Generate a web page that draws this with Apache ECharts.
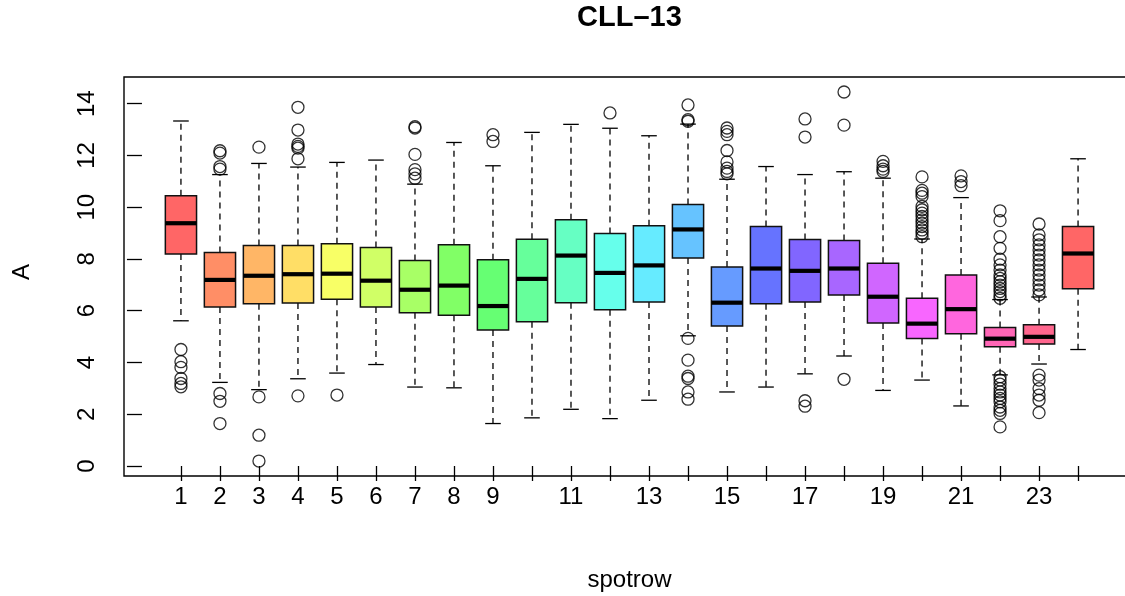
<!DOCTYPE html>
<html>
<head>
<meta charset="utf-8">
<script src="https://cdn.jsdelivr.net/npm/echarts@6/dist/echarts.min.js"></script>
<style>
html,body{margin:0;padding:0;background:#fff;}
#chart{width:1125px;height:596px;}
</style>
</head>
<body>
<div id="chart"></div>
<script>
// ---- data ----
const categories = [1,2,3,4,5,6,7,8,9,10,11,12,13,14,15,16,17,18,19,20,21,22,23,24];
const xTickLabels = [1,2,3,4,5,6,7,8,9,11,13,15,17,19,21,23];
const yTickValues = [0,2,4,6,8,10,12,14];
const lowerWhisker = [5.61,3.23,2.95,3.37,3.59,3.92,3.05,3.02,1.64,1.86,2.19,1.83,2.54,5.03,2.86,3.05,3.56,4.25,2.92,3.32,2.32,3.52,3.94,4.50];
const q1           = [8.19,6.14,6.27,6.30,6.44,6.14,5.92,5.82,5.25,5.57,6.31,6.04,6.34,8.04,5.41,6.27,6.34,6.61,5.52,4.93,5.11,4.61,4.71,6.85];
const median       = [9.38,7.19,7.35,7.41,7.43,7.16,6.81,6.97,6.18,7.23,8.13,7.46,7.75,9.14,6.31,7.63,7.54,7.63,6.54,5.50,6.06,4.92,4.99,8.21];
const q3           = [10.44,8.25,8.52,8.52,8.59,8.44,7.94,8.55,7.97,8.76,9.51,8.98,9.28,10.10,7.69,9.25,8.75,8.71,7.83,6.48,7.38,5.35,5.46,9.25];
const upperWhisker = [13.33,11.26,11.69,11.55,11.73,11.82,10.89,12.50,11.60,12.89,13.20,13.05,12.76,13.21,11.08,11.57,11.26,11.37,11.12,8.77,10.37,6.43,6.53,11.87];
const outliers = [
  [4.50,4.03,3.81,3.38,3.19,3.06],
  [12.18,12.09,11.57,11.47,2.80,2.50,1.64],
  [12.32,2.67,1.19,0.19],
  [13.86,12.98,12.44,12.35,12.28,11.87,2.71],
  [2.74],
  [],
  [13.11,13.06,12.04,11.45,11.29,11.12],
  [],
  [12.80,12.54],
  [],
  [],
  [13.64],
  [],
  [13.95,13.38,13.32,4.93,4.09,3.47,3.38,2.86,2.58],
  [13.06,12.93,12.80,12.19,11.75,11.51,11.38,11.29],
  [],
  [13.41,12.71,2.52,2.31],
  [14.45,13.17,3.35],
  [11.77,11.60,11.47,11.38],
  [11.17,10.65,10.54,10.41,10.03,9.90,9.77,9.64,9.51,9.38,9.25,9.12,8.99,8.86],
  [11.21,10.99,10.83],
  [9.86,9.48,8.86,8.41,7.99,7.77,7.57,7.38,7.25,7.12,6.99,6.86,6.74,6.61,6.48,3.45,3.32,3.16,2.99,2.86,2.74,2.61,2.48,2.28,2.15,2.03,1.51],
  [9.35,8.93,8.74,8.54,8.35,8.15,7.96,7.77,7.57,7.38,7.19,6.99,6.80,6.61,3.51,3.32,2.99,2.74,2.54,2.06],
  []
];
const boxColors = ['#FF6666','#FF8E66','#FFB666','#FFDE66','#F8FF66','#D0FF66','#A8FF66','#81FF66','#66FF73','#66FF9B','#66FFC3','#66FFEB','#66EBFF','#66C3FF','#669BFF','#6673FF','#8166FF','#A866FF','#D066FF','#F866FF','#FF66DE','#FF66B6','#FF668E','#FF6666'];

// ---- build series data ----
const boxData = categories.map((c,i)=>[c, lowerWhisker[i], q1[i], median[i], q3[i], upperWhisker[i], i]);
const outlierData = [];
outliers.forEach((arr,i)=>arr.forEach(v=>outlierData.push([categories[i], v])));

const FONT = '"Liberation Sans", Arial, Helvetica, sans-serif';
const chart = echarts.init(document.getElementById('chart'), null, {renderer:'canvas'});

function renderBox(params, api){
  const x = api.value(0);
  const lw = api.value(1), b1 = api.value(2), md = api.value(3), b3 = api.value(4), uw = api.value(5);
  const idx = api.value(6);
  const bw = api.size([0.8, 0])[0];
  const cw = api.size([0.4, 0])[0];
  const pLw = api.coord([x, lw]), pQ1 = api.coord([x, b1]), pMd = api.coord([x, md]), pQ3 = api.coord([x, b3]), pUw = api.coord([x, uw]);
  const cx = pMd[0];
  const dash = {stroke:'#000', lineWidth:1.3, lineDash:[6,5]};
  const solid = {stroke:'#000', lineWidth:1.3};
  return {
    type:'group',
    children:[
      {type:'line', shape:{x1:cx,y1:pQ3[1],x2:cx,y2:pUw[1]}, style:dash},
      {type:'line', shape:{x1:cx,y1:pQ1[1],x2:cx,y2:pLw[1]}, style:dash},
      {type:'line', shape:{x1:cx-cw/2,y1:pUw[1],x2:cx+cw/2,y2:pUw[1]}, style:solid},
      {type:'line', shape:{x1:cx-cw/2,y1:pLw[1],x2:cx+cw/2,y2:pLw[1]}, style:solid},
      {type:'rect', shape:{x:cx-bw/2, y:pQ3[1], width:bw, height:pQ1[1]-pQ3[1]}, style:{fill:boxColors[idx], stroke:'#111', lineWidth:1.5}},
      {type:'line', shape:{x1:cx-bw/2,y1:pMd[1],x2:cx+bw/2,y2:pMd[1]}, style:{stroke:'#000', lineWidth:4.2}}
    ]
  };
}

const option = {
  backgroundColor:'#fff',
  animation:false,
  grid:{left:124, right:-10, top:77, bottom:120, outerBoundsMode:'none', containLabel:false, show:true, borderColor:'#000', borderWidth:1.4, backgroundColor:'transparent'},
  xAxis:{
    type:'value', min:-0.46, max:25.46,
    axisLine:{show:false},
    splitLine:{show:false},
    axisTick:{show:true, customValues:categories, length:15, lineStyle:{color:'#000', width:1.3}},
    axisLabel:{show:true, customValues:xTickLabels, fontSize:24, color:'#000', fontFamily:FONT, margin:9}
  },
  yAxis:{
    type:'value', min:-0.387, max:15.03,
    axisLine:{show:false},
    splitLine:{show:false},
    axisTick:{show:true, customValues:yTickValues, length:15, lineStyle:{color:'#000', width:1.3}},
    axisLabel:{show:true, customValues:yTickValues, rotate:90, fontSize:24, color:'#000', fontFamily:FONT, margin:25}
  },
  graphic:[
    {type:'text', x:629.5, y:18, style:{text:'CLL\u201313', font:'bold 29px '+FONT, fill:'#000', textAlign:'center', textVerticalAlign:'middle'}},
    {type:'text', x:629.5, y:580, style:{text:'spotrow', font:'24px '+FONT, fill:'#000', textAlign:'center', textVerticalAlign:'middle'}},
    {type:'text', x:22, y:272, rotation:Math.PI/2, style:{text:'A', font:'24px '+FONT, fill:'#000', textAlign:'center', textVerticalAlign:'middle'}}
  ],
  series:[
    {type:'custom', renderItem:renderBox, data:boxData, encode:{x:0, y:[1,2,3,4,5]}, z:2},
    {type:'scatter', data:outlierData, symbol:'circle', symbolSize:12, itemStyle:{color:'transparent', borderColor:'#000', borderWidth:1.3}, z:3}
  ]
};
chart.setOption(option);
</script>
</body>
</html>
